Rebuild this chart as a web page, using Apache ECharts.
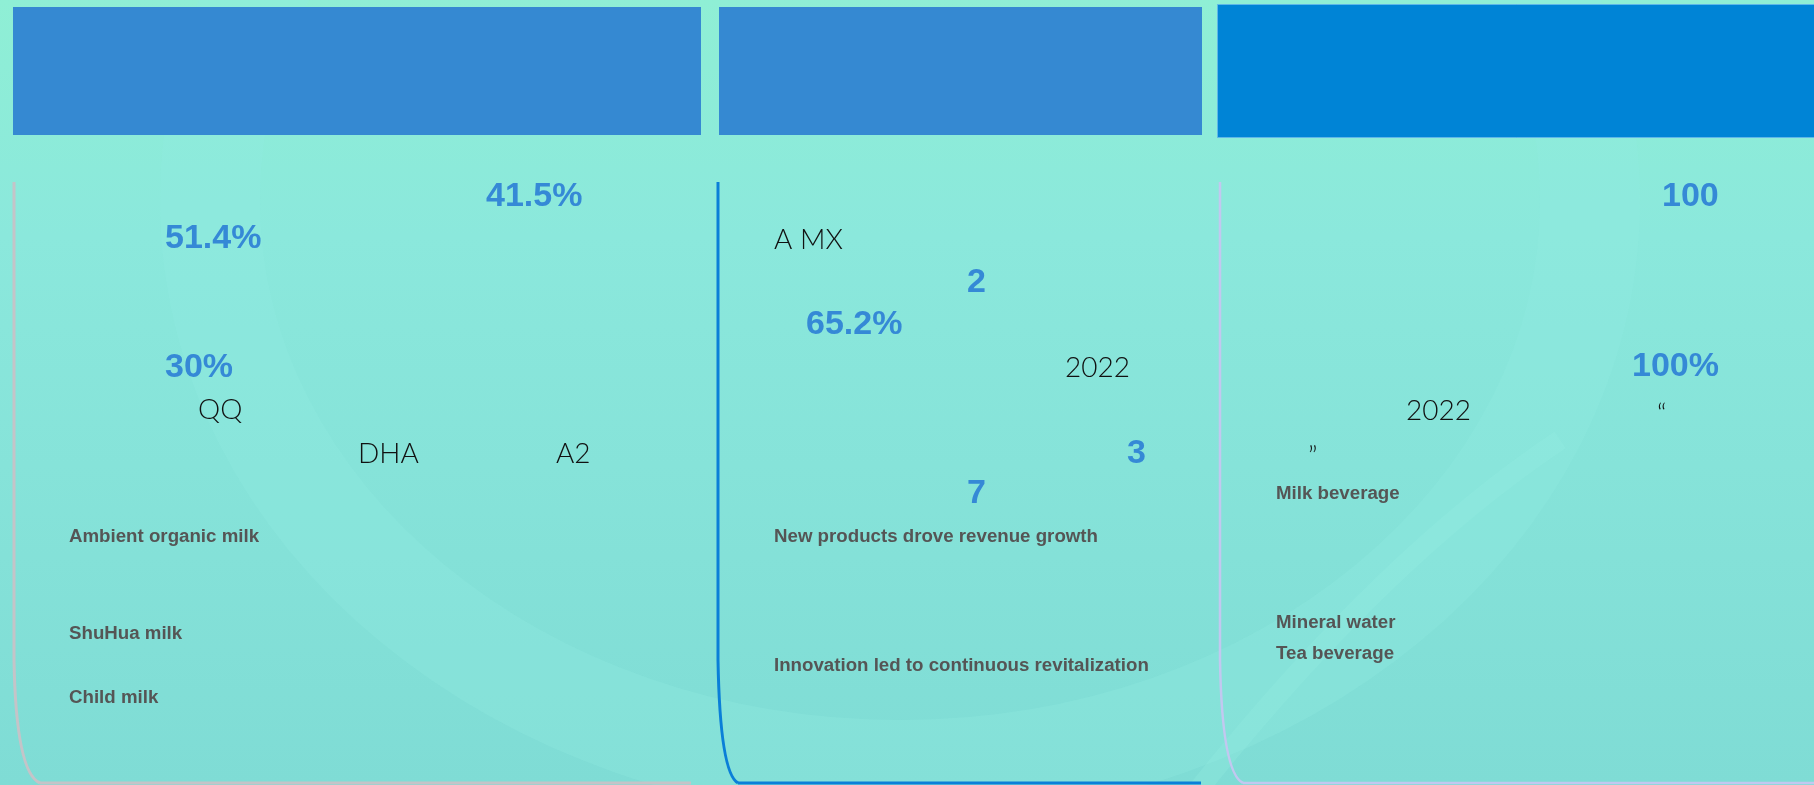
<!DOCTYPE html>
<html>
<head>
<meta charset="utf-8">
<script src="https://cdn.jsdelivr.net/npm/echarts@6/dist/echarts.min.js"></script>
<style>html,body{margin:0;padding:0;background:#8ae8da;}#c{width:1814px;height:785px;}</style>
</head>
<body>
<div id="c"></div>
<script>
// ---- content (texts) ----
const panel1Values = ['41.5%', '51.4%', '30%'];
const panel1Tags = ['QQ', 'DHA', 'A2'];
const panel1Products = ['Ambient organic milk', 'ShuHua milk', 'Child milk'];
const panel2Values = ['2', '65.2%', '3', '7'];
const panel2Tags = ['A MX', '2022'];
const panel2Notes = ['New products drove revenue growth', 'Innovation led to continuous revitalization'];
const panel3Values = ['100', '100%'];
const panel3Tags = ['2022', '\u201C', '\u201D'];
const panel3Products = ['Milk beverage', 'Mineral water', 'Tea beverage'];

// ---- layout (kept apart from the content) ----
const layout = {
  p1Values: [[486, 197], [165, 239], [165, 368]],
  p1Tags: [[198, 410], [358, 454], [556, 454]],
  p1Products: [[69, 537], [69, 634], [69, 698]],
  p2Values: [[967, 283], [806, 325], [1127, 454], [967, 494]],
  p2Tags: [[774, 240], [1065, 368]],
  p2Notes: [[774, 537], [774, 666]],
  p3Values: [[1662, 197], [1632, 367]],
  p3Tags: [[1406, 411], [1657, 414], [1308, 457]],
  p3Products: [[1276, 494], [1276, 623], [1276, 654]]
};

const styles = {
  value: { fill: '#3589d6', fontSize: 34, fontWeight: 'bold', fontFamily: 'Liberation Sans, Arial, sans-serif' },
  tag: { fill: '#111111', fontSize: 28, fontWeight: 300, fontFamily: 'Lato, Roboto, sans-serif' },
  label: { fill: '#555555', fontSize: 18.7, fontWeight: 'bold', fontFamily: 'Liberation Sans, Arial, sans-serif' }
};

function texts(list, pos, st) {
  return list.map((t, i) => ({
    type: 'text',
    z: 10,
    style: Object.assign({ text: t, x: pos[i][0], y: pos[i][1], textAlign: 'left', textVerticalAlign: 'middle' }, st)
  }));
}

// panel border: vertical line, rounded bottom-left corner, bottom line
function border(x, top, cornerY, endX, bottom, cornerEndX, color, w) {
  const st = { fill: 'none', stroke: color, lineWidth: w };
  return [
    { type: 'line', z: 3, shape: { x1: x, y1: top, x2: x, y2: cornerY }, style: st },
    { type: 'bezierCurve', z: 3, shape: { x1: x, y1: cornerY, cpx1: x + 2, cpy1: bottom - 10, x2: cornerEndX, y2: bottom }, style: st },
    { type: 'line', z: 3, shape: { x1: cornerEndX, y1: bottom, x2: endX, y2: bottom }, style: st }
  ];
}

const chart = echarts.init(document.getElementById('c'));
const W = 1814, H = 785;

const elements = [
  { type: 'rect', z: 0, shape: { x: 0, y: 0, width: W, height: H },
    style: { fill: new echarts.graphic.LinearGradient(0, 0, 0, 1, [
      { offset: 0, color: '#8fefd5' }, { offset: 0.3, color: '#8be8dc' }, { offset: 1, color: '#7fdcd5' }]) } },
  { type: 'ellipse', z: 1, shape: { cx: 900, cy: 200, rx: 690, ry: 570 },
    style: { fill: 'none', stroke: 'rgba(146,236,224,0.3)', lineWidth: 100 } },
  { type: 'bezierCurve', z: 1, shape: { x1: 1190, y1: 800, cpx1: 1380, cpy1: 560, x2: 1560, y2: 440 },
    style: { fill: 'none', stroke: 'rgba(150,238,226,0.25)', lineWidth: 20 } },
  // header bars
  { type: 'rect', z: 2, shape: { x: 13, y: 7, width: 688, height: 128 }, style: { fill: '#3589d2' } },
  { type: 'rect', z: 2, shape: { x: 719, y: 7, width: 483, height: 128 }, style: { fill: '#3589d2' } },
  { type: 'rect', z: 2, shape: { x: 1217.5, y: 4.5, width: 600, height: 133 }, style: { fill: '#0084d6', stroke: '#5fb7e8', lineWidth: 1 } }
]
  .concat(border(14, 182, 660, 691, 783, 40, '#c4c4c8', 3))
  .concat(border(718, 182, 660, 1201, 783, 738, '#0a7fd8', 3))
  .concat(border(1220, 182, 660, 1814, 783, 1243, '#c2c8f0', 2.5))
  .concat(texts(panel1Values, layout.p1Values, styles.value))
  .concat(texts(panel1Tags, layout.p1Tags, styles.tag))
  .concat(texts(panel1Products, layout.p1Products, styles.label))
  .concat(texts(panel2Values, layout.p2Values, styles.value))
  .concat(texts(panel2Tags, layout.p2Tags, styles.tag))
  .concat(texts(panel2Notes, layout.p2Notes, styles.label))
  .concat(texts(panel3Values, layout.p3Values, styles.value))
  .concat(texts(panel3Tags, layout.p3Tags, styles.tag))
  .concat(texts(panel3Products, layout.p3Products, styles.label));

chart.setOption({ animation: false, graphic: { elements: elements } });
</script>
</body>
</html>
